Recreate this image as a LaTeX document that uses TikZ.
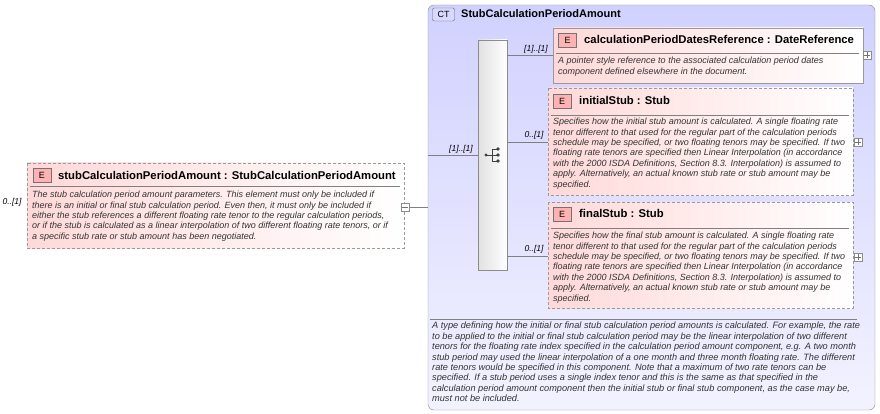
\documentclass[tikz,border=0pt]{standalone}
\usepackage{fontspec}
\setmainfont{Liberation Sans}
\begin{document}
\begin{tikzpicture}[x=1pt,y=-1pt,
 elem/.style={draw=black!40,left color=red!15,right color=white,shading angle=90},
 dsh/.style={dash pattern=on 3pt off 2pt},
 ebox/.style={draw=black!55,fill=red!30,minimum width=18pt,minimum height=14pt,inner sep=0pt,font=\fontsize{9}{9}\selectfont},
 ttl/.style={anchor=west,font=\bfseries\fontsize{11.3}{12}\selectfont,inner sep=0pt},
 desc/.style={anchor=north west,align=left,font=\itshape\fontsize{9}{10.4}\selectfont,inner sep=0pt,text=black!80},
 card/.style={font=\itshape\fontsize{8.5}{9}\selectfont,inner sep=0pt},
 pm/.style={draw=black!45,fill=white,minimum size=8pt,inner sep=0pt},
 ln/.style={draw=black!50}]
\useasboundingbox (0,0) rectangle (880,414);
% CT box
\draw[draw=black!45,rounded corners=6pt,top color=blue!18,bottom color=blue!5] (428,5) rectangle (875,410);
\node[draw=black!60,fill=blue!15,rounded corners=2pt,minimum width=22pt,minimum height=13pt,inner sep=0pt,font=\fontsize{9}{9}\selectfont] (ct) at (443.5,14.5) {CT};
\node[ttl,font=\bfseries\fontsize{11}{12}\selectfont] (ctt) at (461,14) {StubCalculationPeriodAmount};
% left element
\draw[elem,dsh] (27,163) rectangle (404,248);
\node[ebox] (e0) at (42,175.5) {E};
\node[ttl] (t0) at (58,175) {stubCalculationPeriodAmount : StubCalculationPeriodAmount};
\draw[black!50] (30,186) -- (400,186);
\node[desc] (d0) at (32,191) {The stub calculation period amount parameters. This element must only be included if\\there is an initial or final stub calculation period. Even then, it must only be included if\\either the stub references a different floating rate tenor to the regular calculation periods,\\or if the stub is calculated as a linear interpolation of two different floating rate tenors, or if\\a specific stub rate or stub amount has been negotiated.};
\node[card] (c0) at (12,202) {0..[1]};
\node[pm] (m0) at (405,207) {};
\draw[black!55] (402,207) -- (408,207);
\coordinate (ctl) at (428,207);
\draw[ln] (m0) -- (ctl);
% sequence
\draw[draw=black!45,left color=black!12,right color=white,shading angle=90] (478,40) rectangle (507,270);
\coordinate (seq) at (478,155);
\coordinate (ctin) at (428,155);
\draw[ln] (ctin) -- (seq);
\node[card] at (461,149) {[1]..[1]};
% seq icon
\fill[black!75] (486,155) circle (1.6);
\draw[black!75,line width=0.8] (486,155) -- (492,155) (492,149) -- (492,161) (492,149) -- (498,149) (492,155) -- (498,155) (492,161) -- (498,161);
\fill[black!75] (498,149) circle (1.8) (498,155) circle (1.8) (498,161) circle (1.8);
% child 1
\draw[elem] (553,28) rectangle (863,83);
\node[ebox] (e1) at (567.5,40) {E};
\node[ttl] (t1) at (584,39) {calculationPeriodDatesReference : DateReference};
\draw[black!50] (556,53) -- (859,53);
\node[desc] (d1) at (558,57) {A pointer style reference to the associated calculation period dates\\component defined elsewhere in the document.};
\node[pm] (p1) at (867,55) {};
\draw[black!55] (864,55) -- (870,55) (867,52) -- (867,58);
\draw[ln] (507,55) -- (553,55);
\node[card] at (536,49) {[1]..[1]};
% child 2
\draw[elem,dsh] (548,88) rectangle (853,195);
\node[ebox] (e2) at (562,101) {E};
\node[ttl] (t2) at (579,100) {initialStub : Stub};
\draw[black!50] (551,115) -- (849,115);
\node[desc] (d2) at (553,118) {Specifies how the initial stub amount is calculated. A single floating rate\\tenor different to that used for the regular part of the calculation periods\\schedule may be specified, or two floating tenors may be specified. If two\\floating rate tenors are specified then Linear Interpolation (in accordance\\with the 2000 ISDA Definitions, Section 8.3. Interpolation) is assumed to\\apply. Alternatively, an actual known stub rate or stub amount may be\\specified.};
\node[pm] (p2) at (858,142) {};
\draw[black!55] (855,142) -- (861,142) (858,139) -- (858,145);
\draw[ln] (507,142) -- (548,142);
\node[card] at (534,135) {0..[1]};
% child 3
\draw[elem,dsh] (548,202) rectangle (853,308);
\node[ebox] (e3) at (562,214.5) {E};
\node[ttl] (t3) at (579,213) {finalStub : Stub};
\draw[black!50] (551,228) -- (849,228);
\node[desc] (d3) at (553,232) {Specifies how the final stub amount is calculated. A single floating rate\\tenor different to that used for the regular part of the calculation periods\\schedule may be specified, or two floating tenors may be specified. If two\\floating rate tenors are specified then Linear Interpolation (in accordance\\with the 2000 ISDA Definitions, Section 8.3. Interpolation) is assumed to\\apply. Alternatively, an actual known stub rate or stub amount may be\\specified.};
\node[pm] (p3) at (858,257) {};
\draw[black!55] (855,257) -- (861,257) (858,254) -- (858,260);
\draw[ln] (507,256) -- (548,256);
\node[card] at (534,249) {0..[1]};
% bottom text
\draw[black!50] (430,319) -- (857,319);
\node[desc,font=\itshape\fontsize{9.2}{10.4}\selectfont] (d4) at (432,322) {A type defining how the initial or final stub calculation period amounts is calculated. For example, the rate\\to be applied to the initial or final stub calculation period may be the linear interpolation of two different\\tenors for the floating rate index specified in the calculation period amount component, e.g. A two month\\stub period may used the linear interpolation of a one month and three month floating rate. The different\\rate tenors would be specified in this component. Note that a maximum of two rate tenors can be\\specified. If a stub period uses a single index tenor and this is the same as that specified in the\\calculation period amount component then the initial stub or final stub component, as the case may be,\\must not be included.};
\end{tikzpicture}
\end{document}
